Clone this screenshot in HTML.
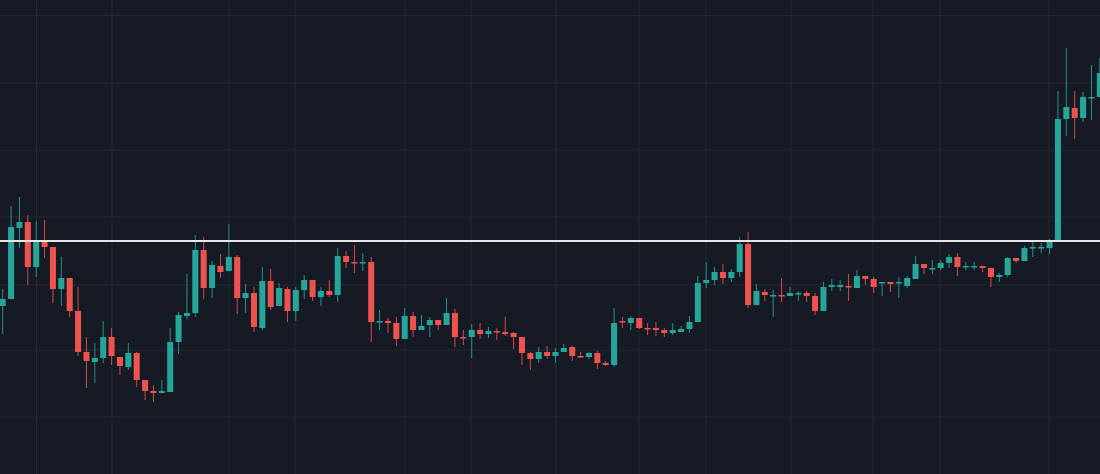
<!DOCTYPE html>
<html><head><meta charset="utf-8"><style>
html,body{margin:0;padding:0;background:#161a25;overflow:hidden}
svg{display:block}
</style></head><body>
<svg id="c" width="1100" height="474" xmlns="http://www.w3.org/2000/svg">
<rect width="1100" height="474" fill="#161a25"/>
<g id="grid" stroke="#242833" stroke-width="1"></g>
<g id="candles"></g>
<line x1="0" y1="241" x2="1100" y2="241" stroke="#e6e6e6" stroke-width="2"/>
</svg>
<script>
var NS="http://www.w3.org/2000/svg";
var g=document.getElementById('grid');
[36.5,112,229,295,405,471,556,639,706,791,873,940,1049].forEach(function(x){
 var l=document.createElementNS(NS,'line');l.setAttribute('x1',x);l.setAttribute('x2',x);l.setAttribute('y1',0);l.setAttribute('y2',474);g.appendChild(l);});
[15.5,83,150,217,285,350,417].forEach(function(y){
 var l=document.createElementNS(NS,'line');l.setAttribute('y1',y);l.setAttribute('y2',y);l.setAttribute('x1',0);l.setAttribute('x2',1100);g.appendChild(l);});
// [bodyTop, bodyBottom, wickTop, wickBottom, up?]
var d=[
[299,306,289,334,1],[227,299,206,299,1],[222,228,197,248,1],[222,267,215,285,0],[240,267,221,277,1],
[240,247,220,258,0],[247,289,247,303,0],[278,289,257,306,1],[278,311,278,317,0],[311,352,287,356,0],
[352,361,337,388,0],[358,362,343,383,1],[337,358,321,363,1],[337,356,328,365,0],[357,366,357,375,0],
[353,367,343,370,1],[353,380,352,387,0],[380,391,380,400,0],[391,393,385,402,0],[391,393,380,393,1],
[342,392,328,392,1],[315,342,312,354,1],[313,316,274,319,1],[250,313,235,317,1],[250,288,237,299,0],
[265,288,261,298,1],[266,272,254,278,0],[257,271,224,271,1],[257,298,255,314,0],[293,298,284,313,1],
[293,327,287,332,0],[281,328,267,330,1],[281,307,269,310,0],[288,306,283,306,1],[289,311,287,322,0],
[290,311,287,321,1],[280,290,275,299,1],[280,297,280,301,0],[291,297,287,306,1],[291,295,280,297,0],
[256,295,248,302,1],[256,262,251,268,0],[262,263,245,273,0],[262,263,253,271,1],[262,322,257,342,0],
[321,322,310,330,1],[321,323,318,333,0],[323,339,317,346,0],[316,339,308,339,1],[316,330,312,337,0],
[326,330,315,330,1],[320,325,317,337,1],[320,325,320,330,0],[313,325,298,325,1],[313,337,309,347,0],
[337,338,330,345,0],[330,337,324,358,1],[330,334,323,339,0],[331,334,327,338,1],[331,332,328,340,0],
[332,334,317,336,0],[333,337,332,349,0],[337,353,337,365,0],[353,359,352,370,0],[352,359,347,363,1],
[352,356,346,359,0],[352,356,348,363,1],[348,352,344,352,1],[347,356,346,361,0],[356,357,352,358,0],
[353,357,352,359,1],[353,363,351,369,0],[363,365,361,366,0],[323,365,308,367,1],[321,322,317,328,0],
[318,323,316,330,1],[318,328,318,329,0],[328,329,323,335,0],[328,330,322,336,0],[330,333,328,337,0],
[330,333,323,335,1],[329,332,326,332,1],[322,329,316,333,1],[283,322,276,322,1],[280,283,262,288,1],
[272,280,267,285,1],[272,278,264,284,0],[272,278,269,282,1],[244,272,237,277,1],[244,305,232,308,0],
[291,305,284,305,1],[292,295,289,301,0],[295,296,290,317,1],[295,296,278,302,0],[293,296,287,296,1],
[293,294,291,301,1],[293,296,291,302,0],[296,311,293,315,0],[287,311,282,311,1],[285,287,279,291,1],
[285,287,280,291,1],[286,287,274,301,0],[276,288,270,288,1],[276,279,276,285,0],[279,287,277,293,0],
[282,283,282,296,1],[282,284,282,292,0],[282,283,277,298,1],[278,286,276,288,1],[264,279,256,279,1],
[264,268,264,274,0],[268,269,260,274,1],[263,268,260,270,1],[257,263,254,268,1],[257,267,253,276,0],
[266,267,262,270,1],[266,267,262,270,1],[266,268,266,272,0],[268,277,268,287,0],[275,277,273,282,1],
[258,275,257,277,1],[258,261,258,263,0],[248,261,246,261,1],[247,248,242,257,1],[247,248,243,253,1],
[241,248,239,254,1],[119,241,91,241,1],[107,119,48,136,1],[108,118,91,139,0],[97,118,92,122,1],
[97,98,65,120,1],[73,97,58,97,1]
];
var c=document.getElementById('candles');
d.forEach(function(k,i){
 var x=2.7+8.375*i;
 var col=k[4]?'#26a69a':'#ef5350';
 var w=document.createElementNS(NS,'line');
 w.setAttribute('x1',x);w.setAttribute('x2',x);w.setAttribute('y1',k[2]);w.setAttribute('y2',k[3]);
 w.setAttribute('stroke',col);w.setAttribute('stroke-width',1);w.setAttribute('opacity',0.85);c.appendChild(w);
 var r=document.createElementNS(NS,'rect');
 var h=Math.max(1.5,k[1]-k[0]);
 r.setAttribute('x',x-3);r.setAttribute('y',k[0]);r.setAttribute('width',6);r.setAttribute('height',h);
 r.setAttribute('fill',col);c.appendChild(r);
});
</script>
</body></html>
